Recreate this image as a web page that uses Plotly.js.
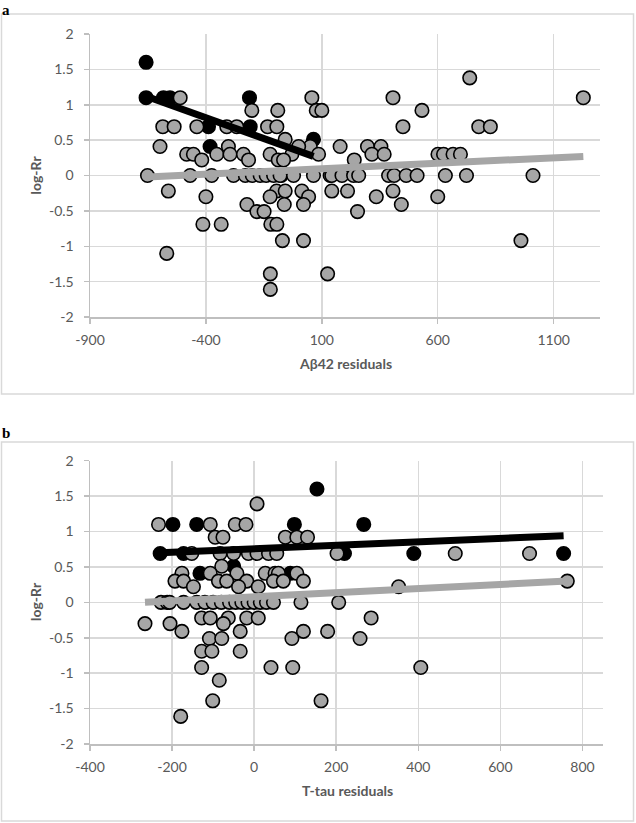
<!DOCTYPE html>
<html>
<head>
<meta charset="utf-8">
<script src="https://cdn.plot.ly/plotly-3.0.1.min.js"></script>
<style>html,body{margin:0;padding:0;background:#fff;}#chart{width:636px;height:823px;}</style>
</head>
<body>
<div id="chart"></div>
<script>
// ---------- Panel a: Aβ42 residuals vs log-Rr ----------
const aGrayX = [-511, 57, 407, 1228,
  738,
  -202, -90, 76, 100, 532,
  -586, -537, -439, -310, -267, -134, -94, 450, 777, 827,
  -58,
  -598, -303, 50, 0, 179, 297, 355,
  -483, -454, -353, -296, -238, -123, -29, 86, 316, 369, 601, 625, 666, 698,
  -418, -216, -88, -65, 240,
  -652, -468, -375, -281, -230, -200, -166, -140, -108, -80, -22, 64, 136, 143, 187, 237, 259, 388, 412, 464, 511, 633, 724, 1011,
  -562, -95, -58, 14, 143, 211, 407,
  -400, -123, 43, 335, 600,
  -223, -62, 21, 443,
  -180, -149, 254,
  -413, -334, -120, -94,
  -70, 21, 959,
  -569,
  -122, 125,
  -122];
const aGrayY = [1.1, 1.1, 1.1, 1.1,
  1.38,
  0.92, 0.92, 0.92, 0.92, 0.92,
  0.69, 0.69, 0.69, 0.69, 0.69, 0.69, 0.69, 0.69, 0.69, 0.69,
  0.51,
  0.41, 0.41, 0.41, 0.41, 0.41, 0.41, 0.41,
  0.3, 0.3, 0.3, 0.3, 0.3, 0.3, 0.3, 0.3, 0.3, 0.3, 0.3, 0.3, 0.3, 0.3,
  0.22, 0.22, 0.22, 0.22, 0.22,
  0, 0, 0, 0, 0, 0, 0, 0, 0, 0, 0, 0, 0, 0, 0, 0, 0, 0, 0, 0, 0, 0, 0, 0,
  -0.22, -0.22, -0.22, -0.22, -0.22, -0.22, -0.22,
  -0.3, -0.3, -0.3, -0.3, -0.3,
  -0.41, -0.41, -0.41, -0.41,
  -0.51, -0.51, -0.51,
  -0.69, -0.69, -0.69, -0.69,
  -0.92, -0.92, -0.92,
  -1.1,
  -1.39, -1.39,
  -1.61];
const aBlackX = [-658, -658, -583, -555, -212, -389, -382, -209, 64, -75];
const aBlackY = [1.6, 1.1, 1.1, 1.1, 1.1, 0.69, 0.41, 0.69, 0.51, 0];
const aTrendBlackX = [-658, 64];
const aTrendBlackY = [1.12, 0.27];
const aTrendGrayX = [-652, 1228];
const aTrendGrayY = [-0.02, 0.27];
const aXTicks = [-900, -400, 100, 600, 1100];
const aXTickText = ['-900', '-400', '100', '600', '1100'];

// ---------- Panel b: T-tau residuals vs log-Rr ----------
const bGrayX = [7,
  -233, -107, -46, -20,
  -95, -76, 76, 104, 130,
  -152, -83, -50, -14, 7, 35, 55, 202, 490, 671,
  -79,
  -176, -107, -42, 27, 51, 59, 104,
  -193, -172, -87, -67, -18, 47, 71, 120, 763,
  -148, -38, 10, 352,
  -227, -212, -206, -172, -140, -120, -100, -80, -60, -45, -30, -15, 0, 15, 30, 47, 114, 206,
  -128, -107, -63, -18, 10, 285,
  -266, -205, -75,
  -176, -34, 120, 179,
  -109, -79, 92, 258,
  -128, -103, -34,
  -128, 41, 94, 406,
  -85,
  -101, 163,
  -179];
const bGrayY = [1.39,
  1.1, 1.1, 1.1, 1.1,
  0.92, 0.92, 0.92, 0.92, 0.92,
  0.69, 0.69, 0.69, 0.69, 0.69, 0.69, 0.69, 0.69, 0.69, 0.69,
  0.51,
  0.41, 0.41, 0.41, 0.41, 0.41, 0.41, 0.41,
  0.3, 0.3, 0.3, 0.3, 0.3, 0.3, 0.3, 0.3, 0.3,
  0.22, 0.22, 0.22, 0.22,
  0, 0, 0, 0, 0, 0, 0, 0, 0, 0, 0, 0, 0, 0, 0, 0, 0, 0,
  -0.22, -0.22, -0.22, -0.22, -0.22, -0.22,
  -0.3, -0.3, -0.3,
  -0.41, -0.41, -0.41, -0.41,
  -0.51, -0.51, -0.51, -0.51,
  -0.69, -0.69, -0.69,
  -0.92, -0.92, -0.92, -0.92,
  -1.1,
  -1.39, -1.39,
  -1.61];
const bBlackX = [-229, -172, -198, -140, -132, -50, 153, 98, 267, 220, 389, 754, 88];
const bBlackY = [0.69, 0.69, 1.1, 1.1, 0.41, 0.51, 1.6, 1.1, 1.1, 0.69, 0.69, 0.69, 0.41];
const bTrendBlackX = [-229, 754];
const bTrendBlackY = [0.70, 0.94];
const bTrendGrayX = [-266, 763];
const bTrendGrayY = [0.0, 0.30];
const bXTicks = [-400, -200, 0, 200, 400, 600, 800];
const bXTickText = ['-400', '-200', '0', '200', '400', '600', '800'];

const yTicks = [-2, -1.5, -1, -0.5, 0, 0.5, 1, 1.5, 2];
const yTickText = ['-2', '-1.5', '-1', '-0.5', '0', '0.5', '1', '1.5', '2'];

const W = 636, H = 823;
const px = v => v / W;
const py = v => 1 - v / H;

const GRAY = '#a6a6a6';
const mk = (c) => ({size: 13.5, color: c, line: {color: '#000', width: 1.6}});

const traces = [
  {x: aBlackX, y: aBlackY, type: 'scatter', mode: 'markers', marker: mk('#000'), xaxis: 'x', yaxis: 'y', cliponaxis: false},
  {x: aGrayX, y: aGrayY, type: 'scatter', mode: 'markers', marker: mk(GRAY), xaxis: 'x', yaxis: 'y', cliponaxis: false},
  {x: aTrendGrayX, y: aTrendGrayY, type: 'scatter', mode: 'lines', line: {color: GRAY, width: 7}, xaxis: 'x', yaxis: 'y'},
  {x: aTrendBlackX, y: aTrendBlackY, type: 'scatter', mode: 'lines', line: {color: '#000', width: 7}, xaxis: 'x', yaxis: 'y'},
  {x: bBlackX, y: bBlackY, type: 'scatter', mode: 'markers', marker: mk('#000'), xaxis: 'x2', yaxis: 'y2', cliponaxis: false},
  {x: bGrayX, y: bGrayY, type: 'scatter', mode: 'markers', marker: mk(GRAY), xaxis: 'x2', yaxis: 'y2', cliponaxis: false},
  {x: bTrendGrayX, y: bTrendGrayY, type: 'scatter', mode: 'lines', line: {color: GRAY, width: 7}, xaxis: 'x2', yaxis: 'y2'},
  {x: bTrendBlackX, y: bTrendBlackY, type: 'scatter', mode: 'lines', line: {color: '#000', width: 7}, xaxis: 'x2', yaxis: 'y2'}
];

const tickFont = {family: 'Lato, "Open Sans", sans-serif', size: 14, color: '#595959'};
const axBase = {
  showgrid: true, gridcolor: '#d9d9d9', gridwidth: 1.5,
  zeroline: false, showline: true, linecolor: '#bfbfbf', linewidth: 1.5,
  ticks: 'outside', ticklen: 5, tickcolor: '#bfbfbf', tickwidth: 1.5,
  tickfont: tickFont, tickmode: 'array', fixedrange: true
};

const titleFont = {family: 'Lato, "Open Sans", sans-serif', size: 14, color: '#595959', weight: 'bold'};
const letterFont = {family: '"Liberation Serif", "DejaVu Serif", serif', size: 15, color: '#000', weight: 'bold'};
const layout = {
  width: W, height: H,
  margin: {l: 0, r: 0, t: 0, b: 0},
  paper_bgcolor: '#fff', plot_bgcolor: '#fff',
  showlegend: false,
  xaxis: Object.assign({}, axBase, {domain: [px(90), px(600)], range: [-900, 1300], anchor: 'y',
    tickvals: aXTicks, ticktext: aXTickText, ticklabelstandoff: 5}),
  yaxis: Object.assign({}, axBase, {domain: [py(317), py(34)], range: [-2, 2], anchor: 'x',
    tickvals: yTicks, ticktext: yTickText, ticklabelstandoff: 7}),
  xaxis2: Object.assign({}, axBase, {domain: [px(90), px(603)], range: [-400, 850], anchor: 'y2',
    tickvals: bXTicks, ticktext: bXTickText, ticklabelstandoff: 5}),
  yaxis2: Object.assign({}, axBase, {domain: [py(744), py(460.7)], range: [-2, 2], anchor: 'x2',
    tickvals: yTicks, ticktext: yTickText, ticklabelstandoff: 7}),
  shapes: [
    {type: 'rect', xref: 'paper', yref: 'paper', x0: px(1.5), x1: px(633.5), y0: py(394), y1: py(14),
     line: {color: '#d9d9d9', width: 1.5}, layer: 'below'},
    {type: 'rect', xref: 'paper', yref: 'paper', x0: px(1.5), x1: px(633.5), y0: py(821), y1: py(442),
     line: {color: '#d9d9d9', width: 1.5}, layer: 'below'}
  ],
  annotations: [
    {text: 'a', xref: 'paper', yref: 'paper', x: px(1), y: py(1), xanchor: 'left', yanchor: 'top', showarrow: false,
     borderpad: 0, font: letterFont},
    {text: 'b', xref: 'paper', yref: 'paper', x: px(1), y: py(424), xanchor: 'left', yanchor: 'top', showarrow: false,
     borderpad: 0, font: letterFont},
    {text: 'log-Rr', xref: 'paper', yref: 'paper', x: px(35), y: py(175.5), textangle: -90, xanchor: 'center', yanchor: 'middle', showarrow: false, font: titleFont},
    {text: 'Aβ42 residuals', xref: 'paper', yref: 'paper', x: px(345), y: py(363), xanchor: 'center', yanchor: 'middle', showarrow: false, font: titleFont},
    {text: 'log-Rr', xref: 'paper', yref: 'paper', x: px(35), y: py(602), textangle: -90, xanchor: 'center', yanchor: 'middle', showarrow: false, font: titleFont},
    {text: 'T-tau residuals', xref: 'paper', yref: 'paper', x: px(347), y: py(790), xanchor: 'center', yanchor: 'middle', showarrow: false, font: titleFont}
  ]
};

Plotly.newPlot('chart', traces, layout, {staticPlot: true, displayModeBar: false});
</script>
</body>
</html>
